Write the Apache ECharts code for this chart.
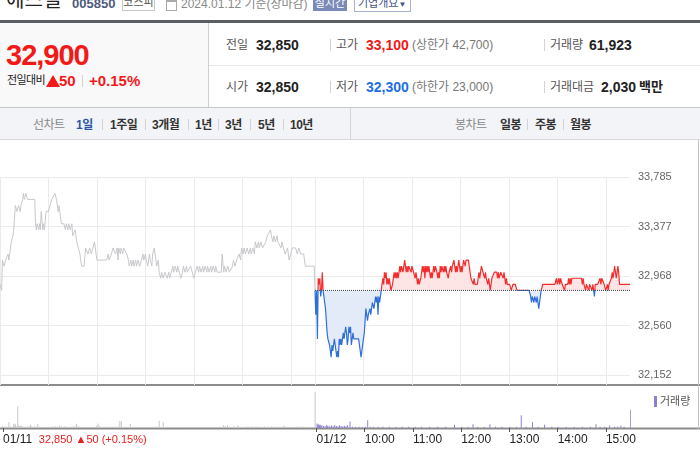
<!DOCTYPE html>
<html><head><meta charset="utf-8">
<script src="https://cdn.jsdelivr.net/npm/echarts@6/dist/echarts.min.js"></script>
<style>
html,body{margin:0;padding:0;background:#fff;}
body{width:700px;height:450px;overflow:hidden;position:relative;font-family:"Liberation Sans",Arial,"Noto Sans CJK KR",sans-serif;}
.t{position:absolute;white-space:nowrap;line-height:20px;}
.b{font-weight:bold;}
.sep{position:absolute;width:1px;background:#d3d3d3;}
.lab{font-size:12px;color:#555;}
.val{font-size:14px;font-weight:bold;color:#222;}
.tab{font-size:12px;font-weight:bold;color:#333;letter-spacing:-0.5px;}
.tabg{font-size:12px;color:#888;letter-spacing:-0.5px;}
#c{position:absolute;left:0;top:140px;width:700px;height:310px;}
</style></head><body>
<!-- header -->
<div class="t" style="left:6px;top:-12px;font-size:20px;line-height:24px;color:#222;">에스엘</div>
<div class="t b" style="left:72px;top:-6px;font-size:13px;color:#4e5b7d;">005850</div>
<div class="t" style="left:122px;top:-6px;width:31px;height:15px;border:1px solid #c8c8c8;font-size:11px;line-height:15px;text-align:center;color:#555;">코스피</div>
<div style="position:absolute;left:166px;top:0px;width:9px;height:8px;border:1px solid #aaa;border-top:2px solid #aaa;"></div>
<div class="t" style="left:181px;top:-6px;font-size:12px;color:#888;">2024.01.12 기준(장마감)</div>
<div class="t" style="left:313px;top:-5px;width:34px;height:16px;background:#7a89b8;font-size:11px;line-height:16px;text-align:center;color:#fff;">실시간</div>
<div class="t" style="left:354px;top:-5px;width:52px;height:15px;border:1px solid #a9b3d1;font-size:11px;line-height:15px;color:#44558b;padding-left:3px;box-sizing:content-box;">기업개요<span style="font-size:8px;">▼</span></div>
<div style="position:absolute;left:0;top:20px;width:700px;height:3px;background:#5c5e66;"></div>
<!-- left summary -->
<div style="position:absolute;left:0;top:23px;width:208px;height:85px;background:#f9f9f9;border-right:1px solid #cfcfcf;"></div>
<div style="position:absolute;left:209px;top:65px;width:491px;height:1px;background:#e6e6e6;"></div>
<div style="position:absolute;left:0;top:107px;width:700px;height:1px;background:#c6c6c6;"></div>
<div class="t b" style="left:6px;top:39px;font-size:29px;line-height:32px;color:#f31919;letter-spacing:-1px;">32,900</div>
<div class="t" style="left:7px;top:70px;font-size:11px;color:#222;letter-spacing:-0.6px;">전일대비</div>
<div style="position:absolute;left:46px;top:75px;width:0;height:0;border-left:7px solid transparent;border-right:7px solid transparent;border-bottom:12px solid #f31919;"></div>
<div class="t b" style="left:59px;top:71px;font-size:15px;color:#f31919;">50</div>
<div class="sep" style="left:82px;top:75px;height:12px;"></div>
<div class="t b" style="left:89px;top:71px;font-size:15px;color:#f31919;">+0.15%</div>
<!-- right summary row 1 -->
<div class="t lab" style="left:226px;top:34.7px;">전일</div>
<div class="t val" style="left:256px;top:34.7px;">32,850</div>
<div class="sep" style="left:330px;top:39px;height:12px;"></div>
<div class="t lab" style="left:336px;top:34.7px;">고가</div>
<div class="t val" style="left:366px;top:34.7px;color:#f01818;">33,100</div>
<div class="t" style="left:412px;top:34.7px;font-size:12px;color:#777;">(상한가 42,700)</div>
<div class="sep" style="left:544px;top:39px;height:12px;"></div>
<div class="t lab" style="left:550px;top:34.7px;">거래량</div>
<div class="t val" style="left:589px;top:34.7px;">61,923</div>
<!-- row 2 -->
<div class="t lab" style="left:226px;top:76.7px;">시가</div>
<div class="t val" style="left:256px;top:76.7px;">32,850</div>
<div class="sep" style="left:330px;top:81px;height:12px;"></div>
<div class="t lab" style="left:336px;top:76.7px;">저가</div>
<div class="t val" style="left:366px;top:76.7px;color:#1b6fe5;">32,300</div>
<div class="t" style="left:412px;top:76.7px;font-size:12px;color:#777;">(하한가 23,000)</div>
<div class="sep" style="left:544px;top:81px;height:12px;"></div>
<div class="t lab" style="left:550px;top:76.7px;">거래대금</div>
<div class="t val" style="left:601px;top:76.7px;">2,030</div>
<div class="t b" style="left:639px;top:76.7px;font-size:13px;color:#222;">백만</div>
<!-- tab bar -->
<div style="position:absolute;left:0;top:108px;width:700px;height:31px;background:#f3f4f7;border-bottom:1px solid #d8d8d8;"></div>
<div class="sep" style="left:350px;top:108px;height:32px;background:#d4d4d4;"></div>
<div class="t tabg" style="left:33px;top:114.5px;">선차트</div>
<div class="t tab" style="left:76px;top:114.5px;color:#2d56a9;">1일</div>
<div class="sep" style="left:102px;top:119px;height:11px;"></div>
<div class="t tab" style="left:110px;top:114.5px;">1주일</div>
<div class="sep" style="left:145px;top:119px;height:11px;"></div>
<div class="t tab" style="left:152px;top:114.5px;">3개월</div>
<div class="sep" style="left:188px;top:119px;height:11px;"></div>
<div class="t tab" style="left:195px;top:114.5px;">1년</div>
<div class="sep" style="left:218px;top:119px;height:11px;"></div>
<div class="t tab" style="left:225px;top:114.5px;">3년</div>
<div class="sep" style="left:250px;top:119px;height:11px;"></div>
<div class="t tab" style="left:258px;top:114.5px;">5년</div>
<div class="sep" style="left:283px;top:119px;height:11px;"></div>
<div class="t tab" style="left:290px;top:114.5px;">10년</div>
<div class="t tabg" style="left:455px;top:114.5px;">봉차트</div>
<div class="t tab" style="left:500px;top:114.5px;">일봉</div>
<div class="sep" style="left:527px;top:119px;height:11px;"></div>
<div class="t tab" style="left:535px;top:114.5px;">주봉</div>
<div class="sep" style="left:563px;top:119px;height:11px;"></div>
<div class="t tab" style="left:570px;top:114.5px;">월봉</div>
<div id="c"></div>
<script>
// ---------- data ----------
const PREV_CLOSE = 32850;
const SESSION = 390; // minutes 09:00-15:30
const Y_TICKS = [32152, 32560, 32968, 33377, 33785];
const GRID_MINUTES = [0, 60, 120, 180, 240, 300, 360, 390, 450, 510, 570, 630, 690, 750];
const LABEL_MINUTES = [0, 390, 450, 510, 570, 630, 690, 750];
const LABEL_TEXT = ['01/11', '01/12', '10:00', '11:00', '12:00', '13:00', '14:00', '15:00'];
const PREV_INFO = '32,850 ▲50 (+0.15%)';

// previous day (01/11) price: [minute from 09:00, price]
const PREV_DAY = [[0,32900],[2,32850],[3,33100],[5,33050],[7,33100],[8,33100],[10,33150],[11,33100],[12,33150],[14,33250],[16,33300],[17,33350],[19,33550],[21,33500],[23,33550],[25,33500],[26,33550],[28,33600],[29,33650],[30,33600],[32,33650],[33,33650],[34,33600],[43,33600],[44,33400],[45,33350],[46,33400],[48,33350],[49,33400],[50,33350],[51,33500],[53,33350],[54,33400],[55,33350],[57,33500],[60,33500],[62,33550],[64,33600],[66,33600],[68,33650],[70,33600],[72,33500],[73,33550],[75,33450],[76,33400],[79,33400],[81,33350],[82,33400],[84,33350],[85,33400],[87,33350],[89,33400],[90,33300],[93,33350],[95,33250],[97,33200],[99,33150],[101,33050],[104,33050],[106,33200],[109,33150],[111,33200],[113,33150],[115,33200],[117,33250],[118,33200],[120,33100],[132,33100],[134,33150],[135,33100],[138,33150],[140,33200],[142,33200],[143,33150],[145,33200],[146,33100],[147,33200],[149,33150],[150,33200],[152,33150],[153,33200],[155,33200],[157,33150],[159,33100],[160,33050],[162,33100],[163,33050],[165,33100],[166,33050],[168,33100],[169,33050],[171,33100],[173,33050],[175,33100],[177,33150],[178,33100],[180,33150],[181,33100],[183,33050],[185,33150],[186,33100],[188,33050],[189,33150],[191,33200],[193,33100],[194,33050],[196,33100],[197,33000],[199,32950],[200,33000],[202,32950],[204,33000],[206,33000],[207,32950],[209,33000],[210,32950],[212,33000],[214,33050],[215,33000],[217,33050],[219,33000],[220,33050],[222,33000],[224,32950],[226,33000],[227,33050],[229,33000],[231,33050],[232,33000],[234,33000],[236,33050],[238,33000],[240,32950],[242,33000],[244,33050],[246,33000],[247,33050],[249,33000],[251,33050],[252,33000],[254,33050],[256,33000],[257,33050],[259,33000],[261,33050],[262,33000],[264,33050],[266,33000],[267,33050],[269,33000],[274,33000],[275,33150],[277,33000],[278,33050],[280,33000],[282,33050],[284,33000],[286,33000],[288,33050],[289,33100],[291,33050],[293,33100],[294,33100],[296,33150],[298,33100],[299,33200],[301,33150],[302,33200],[304,33150],[306,33200],[308,33150],[310,33200],[311,33150],[313,33200],[315,33150],[316,33250],[318,33200],[320,33250],[321,33200],[323,33250],[325,33200],[327,33200],[329,33250],[331,33300],[333,33300],[335,33350],[336,33300],[338,33250],[339,33300],[341,33250],[343,33300],[344,33250],[346,33250],[348,33200],[349,33250],[351,33200],[353,33150],[356,33200],[358,33100],[360,33150],[362,33200],[366,33200],[368,33150],[370,33200],[372,33150],[376,33150],[378,33050],[389,33050],[390,32850]];

// today (01/12) price, one value per minute from 09:00
const TODAY = [
32850,32650,32850,32450,32950,32900,32950,32800,32850,33000,
32850,32800,32750,32700,32600,32500,32450,32450,32400,32350,
32300,32400,32350,32400,32450,32400,32350,32300,32350,32300,
32450,32400,32450,32400,32450,32500,32450,32500,32550,32500,
32400,32450,32550,32500,32550,32400,32450,32500,32450,32450,
32450,32450,32450,32450,32450,32400,32350,32300,32350,32400,
32450,32500,32600,32700,32700,32600,32650,32650,32700,32650,
32700,32750,32750,32700,32750,32800,32750,32800,32650,32800,
32750,32800,32850,32850,32950,32900,33000,32950,33000,32900,
32950,32900,32950,32900,32850,32850,32900,32950,33000,32950,
33000,32950,33000,32950,33000,33050,33000,33050,33050,33000,
33050,33100,33050,33000,33050,33000,33050,33050,33050,33000,
33050,33050,33000,33000,32950,33000,32950,32900,32950,32900,
32900,32950,33000,33050,33000,33050,32950,33050,33000,33050,
33000,33050,33000,32950,33000,32950,32950,33050,33000,33050,
33050,33000,32950,33000,32950,33050,33000,33050,33050,33000,
33050,33000,33050,33000,33000,32950,33000,33000,33050,33000,
33050,33050,33100,33050,33000,33050,33000,33050,33100,33050,
33000,33050,33000,33050,33100,33100,33050,33100,33100,33100,
33100,33050,33000,32950,32950,32950,32900,32950,32900,32900,
32900,32900,32950,33000,32950,33000,33050,33050,33000,33000,
32950,33000,32950,32950,32900,32950,32900,32850,32850,32950,
32950,32950,33000,33000,33000,33000,32950,33000,32950,32950,
33000,33000,33000,32950,33000,32950,32900,32950,32900,32900,
32900,32900,32900,32850,32850,32900,32900,32900,32900,32900,
32850,32850,32850,32850,32850,32850,32850,32850,32850,32850,
32850,32850,32850,32850,32850,32850,32850,32800,32750,32800,
32800,32750,32800,32800,32750,32800,32750,32700,32750,32800,
32850,32850,32900,32900,32900,32900,32900,32900,32900,32900,
32900,32900,32900,32900,32900,32900,32900,32900,32900,32950,
32900,32900,32950,32900,32950,32950,32900,32900,32900,32850,
32900,32900,32900,32900,32950,32900,32950,32900,32950,32950,
32950,32950,32950,32950,32950,32950,32950,32950,32950,32950,
32950,32900,32950,32900,32900,32850,32900,32900,32900,32850,
32900,32900,32900,32850,32900,32850,32800,32900,32900,32900,
32900,32900,32900,32950,32900,32950,32950,32950,32900,32900,
32850,32850,32900,32850,32900,32900,32900,32950,33000,32950,
33000,33050,33000,32950,33000,33050,33000,32900,32900,32900,
32900,32900,32900,32900,32900,32900,32900,32900,32900,32900,
32900];

// volume, previous day: [minute, shares]
const PREV_VOL = [[0,500],[1,300],[3,350],[5,300],[8,1300],[10,350],[12,300],[14,950],[15,600],[16,950],[17,400],[19,4700],[20,500],[21,450],[22,350],[23,500],[24,400],[25,350],[27,300],[29,350],[31,300],[33,400],[35,700],[36,350],[38,300],[40,350],[42,300],[44,950],[46,300],[50,300],[53,300],[58,250],[62,350],[64,300],[66,400],[68,300],[71,550],[73,400],[76,300],[78,450],[82,250],[86,300],[88,400],[90,350],[92,950],[94,400],[96,300],[101,250],[104,300],[108,250],[113,300],[117,500],[119,1000],[121,400],[123,300],[126,250],[130,300],[134,350],[137,300],[141,300],[144,250],[146,1600],[148,1450],[152,250],[159,950],[165,300],[170,250],[175,300],[180,250],[186,300],[190,350],[195,1600],[200,1250],[205,250],[225,250],[230,300],[236,250],[240,300],[246,250],[252,300],[258,250],[262,300],[270,300],[275,600],[277,450],[280,600],[284,300],[288,400],[293,600],[298,300],[304,350],[306,300],[310,350],[315,300],[318,350],[322,300],[326,350],[330,300],[335,400],[340,350],[344,300],[349,350],[351,500],[355,300],[360,250],[366,300],[368,350],[372,300],[375,350],[379,250],[383,300],[389,7900]];
// volume, today: [minute from 09:00, shares]
const TODAY_VOL = [[0,1000],[1,700],[2,850],[3,600],[4,700],[5,500],[6,600],[8,450],[10,400],[12,650],[13,400],[15,500],[16,350],[18,550],[20,400],[22,650],[24,450],[26,400],[28,600],[30,450],[32,350],[34,500],[36,400],[38,600],[41,1450],[44,300],[48,250],[52,300],[56,250],[60,300],[63,1700],[66,300],[70,250],[76,300],[82,250],[90,250],[98,300],[106,250],[114,250],[122,300],[130,250],[140,250],[150,250],[160,300],[171,700],[180,250],[188,250],[194,850],[200,250],[208,300],[215,850],[222,300],[230,250],[240,250],[248,300],[254,2800],[260,300],[268,1300],[275,250],[283,700],[292,250],[300,300],[310,250],[320,300],[330,250],[340,300],[347,850],[352,300],[358,250],[364,550],[370,300],[374,350],[378,550],[382,300],[390,4000]];

// ---------- chart ----------
const fmt = v => String(Math.round(v)).replace(/\B(?=(\d{3})+(?!\d))/g, ',');
const todayLine = TODAY.map((p, i) => [SESSION + i, p]);
const todayVol = TODAY_VOL.map(d => [SESSION + d[0], d[1]]);
const FONT = '"Liberation Sans", Arial, "Noto Sans CJK KR", sans-serif';
const UP = '#f42c2c', DOWN = '#2f6fd8', UP_FILL = '#fde5e5', DOWN_FILL = '#e4ebf8';

const chart = echarts.init(document.getElementById('c'));
chart.setOption({
  animation: false,
  textStyle: { fontFamily: FONT },
  grid: [
    { left: 0, top: 37, width: 630, height: 208 },
    { left: 0, top: 247, width: 630, height: 41 }
  ],
  xAxis: [
    { type: 'value', gridIndex: 0, min: 0, max: SESSION * 2,
      axisLine: { show: false }, axisTick: { show: false, customValues: GRID_MINUTES },
      axisLabel: { show: false },
      splitLine: { show: true, lineStyle: { color: '#ebebeb', width: 1 } } },
    { type: 'value', gridIndex: 1, min: 0, max: SESSION * 2,
      axisLine: { show: false },
      axisTick: { show: true, inside: false, length: 4, customValues: LABEL_MINUTES, lineStyle: { color: '#555' } },
      axisLabel: { show: true, customValues: LABEL_MINUTES, align: 'left', margin: 6, fontSize: 12, color: '#222',
        formatter: v => {
          const i = LABEL_MINUTES.indexOf(v);
          if (i === 0) return '{d|' + LABEL_TEXT[0] + '}  {r|' + PREV_INFO + '}';
          return LABEL_TEXT[i];
        },
        rich: { d: { fontSize: 12, color: '#222', fontFamily: FONT }, r: { fontSize: 11, color: '#e82020', fontFamily: FONT } } },
      splitLine: { show: false } }
  ],
  yAxis: [
    { type: 'value', gridIndex: 0, position: 'right', min: 32070, max: 33785,
      axisLine: { show: false }, axisTick: { show: false, customValues: Y_TICKS },
      axisLabel: { customValues: Y_TICKS, margin: 8, fontSize: 11, color: '#666', formatter: v => fmt(v) },
      splitLine: { show: true, lineStyle: { color: '#ebebeb', width: 1 } } },
    { type: 'value', gridIndex: 1, min: 0, max: 9000, show: false }
  ],
  legend: {
    data: ['거래량'], left: 649, top: 251, icon: 'rect', itemWidth: 3, itemHeight: 11,
    selectedMode: false, textStyle: { fontSize: 11, color: '#555', padding: [0, 0, 0, -2] }
  },
  series: [
    { name: '01/11', type: 'line', xAxisIndex: 0, yAxisIndex: 0, data: PREV_DAY,
      symbol: 'none', lineStyle: { color: '#c8c8cc', width: 1 }, silent: true, z: 2 },
    { name: '01/12', type: 'line', xAxisIndex: 0, yAxisIndex: 0, data: todayLine,
      symbol: 'none', lineStyle: { width: 1.2, color: UP }, areaStyle: { origin: PREV_CLOSE, color: UP_FILL, opacity: 1 }, silent: true, z: 3 },
    { name: '전일종가', type: 'line', xAxisIndex: 0, yAxisIndex: 0,
      data: [[SESSION, PREV_CLOSE], [SESSION * 2, PREV_CLOSE]],
      symbol: 'none', lineStyle: { color: '#444', type: 'dotted', width: 1 }, silent: true, z: 5 },
    { name: '전일거래량', type: 'bar', xAxisIndex: 1, yAxisIndex: 1, data: PREV_VOL,
      barWidth: 1, itemStyle: { color: '#c8c8c8' }, silent: true },
    { name: '거래량', type: 'bar', xAxisIndex: 1, yAxisIndex: 1, data: todayVol,
      barWidth: 1, itemStyle: { color: '#8f80d2' }, silent: true }
  ],
  graphic: [
    { type: 'line', shape: { x1: 0, y1: 245, x2: 700, y2: 245 }, style: { stroke: '#8c8c8c', lineWidth: 2 }, silent: true },
    { type: 'line', shape: { x1: 0, y1: 288.5, x2: 700, y2: 288.5 }, style: { stroke: '#8c8c8c', lineWidth: 2 }, silent: true },
    { type: 'line', shape: { x1: 698.5, y1: 0, x2: 698.5, y2: 290 }, style: { stroke: '#c4c4c4', lineWidth: 1 }, silent: true }
  ]
});

// split colour at the previous close: red above, blue below (pixel position from the axis scale)
const baseY = chart.convertToPixel({ yAxisIndex: 0 }, PREV_CLOSE);
const H = chart.getHeight();
const split = (a, b) => new echarts.graphic.LinearGradient(0, 0, 0, H, [
  { offset: 0, color: a }, { offset: baseY / H, color: a },
  { offset: baseY / H, color: b }, { offset: 1, color: b }
], true);
chart.setOption({
  series: [{}, { lineStyle: { color: split(UP, DOWN) }, areaStyle: { color: split(UP_FILL, DOWN_FILL) } }]
});
</script>
</body></html>
